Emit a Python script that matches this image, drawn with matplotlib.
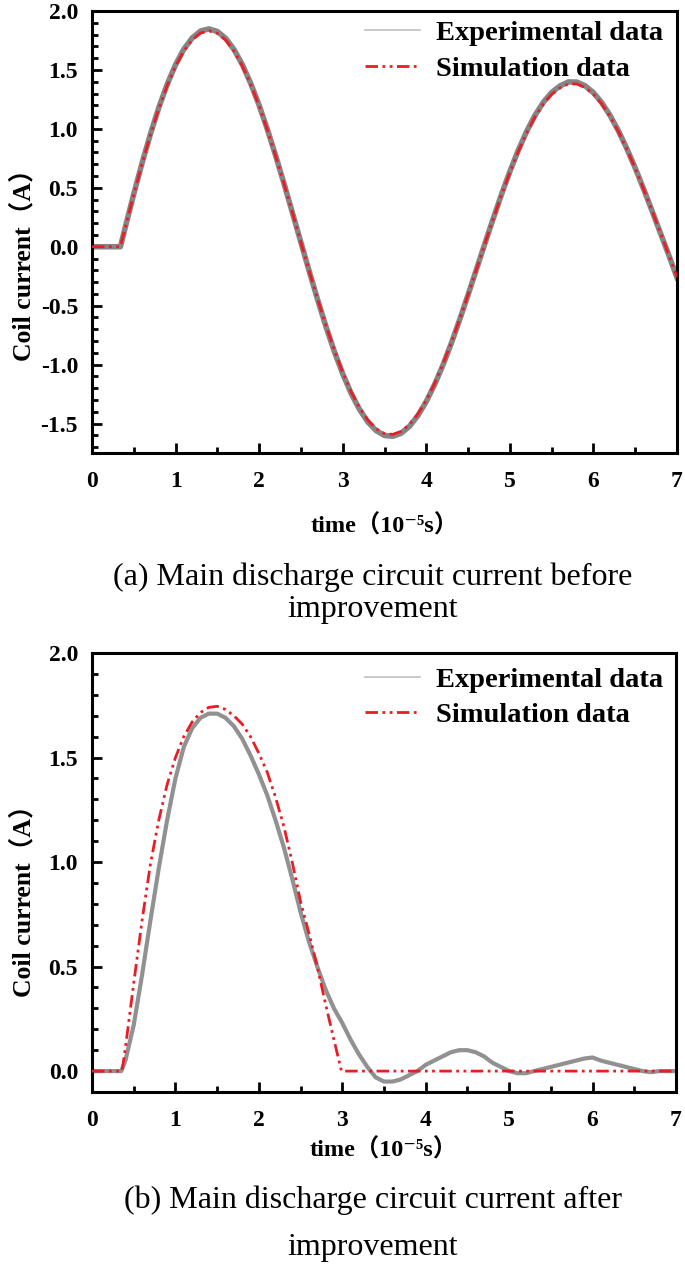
import matplotlib
matplotlib.use("Agg")
import matplotlib.pyplot as plt
from matplotlib.ticker import MultipleLocator

# ---------------- data ----------------
time_a = [0.0, 0.1, 0.2, 0.3, 0.34, 0.4, 0.5, 0.6, 0.7, 0.8, 0.9, 1.0, 1.1, 1.2, 1.3,
          1.4, 1.5, 1.6, 1.7, 1.8, 1.9, 2.0, 2.1, 2.2, 2.3, 2.4, 2.5, 2.6, 2.7, 2.8,
          2.9, 3.0, 3.1, 3.2, 3.3, 3.4, 3.5, 3.6, 3.7, 3.8, 3.9, 4.0, 4.1, 4.2, 4.3,
          4.4, 4.5, 4.6, 4.7, 4.8, 4.9, 5.0, 5.1, 5.2, 5.3, 5.4, 5.5, 5.6, 5.7, 5.8,
          5.9, 6.0, 6.1, 6.2, 6.3, 6.4, 6.5, 6.6, 6.7, 6.8, 6.9, 7.0]
sim_a = [0, 0, 0, 0, 0, 0.169, 0.444, 0.707, 0.951, 1.173, 1.368, 1.532, 1.662, 1.756,
         1.813, 1.831, 1.810, 1.753, 1.660, 1.534, 1.376, 1.194, 0.988, 0.765, 0.529,
         0.284, 0.037, -0.208, -0.445, -0.670, -0.879, -1.066, -1.230, -1.365, -1.470,
         -1.544, -1.585, -1.592, -1.566, -1.508, -1.419, -1.302, -1.160, -0.996, -0.813,
         -0.615, -0.407, -0.193, 0.022, 0.233, 0.438, 0.630, 0.807, 0.964, 1.100, 1.210,
         1.293, 1.347, 1.382, 1.381, 1.351, 1.294, 1.211, 1.104, 0.975, 0.827, 0.665,
         0.490, 0.308, 0.121, -0.065, -0.260]
exp_a = [0, 0, 0, 0, 0, 0.170, 0.448, 0.712, 0.958, 1.182, 1.378, 1.545, 1.677, 1.772,
         1.830, 1.848, 1.826, 1.768, 1.672, 1.544, 1.384, 1.200, 0.992, 0.767, 0.530,
         0.284, 0.036, -0.210, -0.450, -0.678, -0.889, -1.078, -1.243, -1.379, -1.486,
         -1.560, -1.601, -1.608, -1.582, -1.523, -1.432, -1.313, -1.169, -1.003, -0.818,
         -0.618, -0.408, -0.192, 0.024, 0.237, 0.444, 0.638, 0.817, 0.977, 1.114, 1.225,
         1.309, 1.364, 1.398, 1.397, 1.366, 1.307, 1.222, 1.113, 0.982, 0.832, 0.668,
         0.491, 0.307, 0.119, -0.068, -0.262]

time_sim_b = [0.0, 0.1, 0.2, 0.3, 0.36, 0.4, 0.5, 0.6, 0.7, 0.8, 0.9, 1.0, 1.1, 1.2, 1.3,
              1.4, 1.5, 1.6, 1.7, 1.8, 1.9, 2.0, 2.1, 2.2, 2.3, 2.4, 2.5, 2.6, 2.7, 2.8,
              2.9, 2.99, 4.0, 5.0, 6.0, 7.0]
sim_b = [0, 0, 0, 0, 0, 0.11, 0.42, 0.72, 0.99, 1.20, 1.37, 1.50, 1.60, 1.67, 1.715,
         1.74, 1.745, 1.73, 1.70, 1.66, 1.60, 1.52, 1.43, 1.31, 1.17, 1.00, 0.81, 0.66,
         0.50, 0.32, 0.15, 0.0, 0.0, 0.0, 0.0, 0.0]

time_exp_b = [0.0, 0.1, 0.2, 0.3, 0.35, 0.4, 0.5, 0.6, 0.7, 0.8, 0.9, 1.0, 1.1, 1.2, 1.3,
              1.4, 1.5, 1.6, 1.7, 1.8, 1.9, 2.0, 2.1, 2.2, 2.3, 2.4, 2.5, 2.6, 2.7, 2.8,
              2.9, 3.0, 3.1, 3.2, 3.3, 3.4, 3.5, 3.6, 3.7, 3.8, 3.9, 4.0, 4.1, 4.2, 4.3,
              4.4, 4.5, 4.6, 4.7, 4.8, 4.9, 5.0, 5.1, 5.2, 5.3, 5.4, 5.5, 5.6, 5.7, 5.8,
              5.9, 6.0, 6.1, 6.2, 6.3, 6.4, 6.5, 6.6, 6.7, 6.8, 6.9, 7.0]
exp_b = [0.0, 0.0, 0.0, 0.0, 0.0, 0.05, 0.22, 0.46, 0.72, 0.97, 1.20, 1.40, 1.55, 1.64,
         1.69, 1.71, 1.71, 1.69, 1.65, 1.59, 1.51, 1.42, 1.32, 1.20, 1.07, 0.92, 0.76,
         0.62, 0.50, 0.39, 0.30, 0.23, 0.15, 0.08, 0.02, -0.03, -0.05, -0.05, -0.04,
         -0.02, 0.0, 0.03, 0.05, 0.07, 0.09, 0.10, 0.10, 0.09, 0.07, 0.04, 0.02, 0.0,
         -0.01, -0.01, 0.0, 0.01, 0.02, 0.03, 0.04, 0.05, 0.06, 0.065, 0.05, 0.04, 0.03,
         0.02, 0.01, 0.0, -0.005, 0.0, 0.0, 0.0]

x_ticks = [0, 1, 2, 3, 4, 5, 6, 7]
yticks_a = [-1.5, -1.0, -0.5, 0.0, 0.5, 1.0, 1.5, 2.0]
yticks_b = [0.0, 0.5, 1.0, 1.5, 2.0]
label_exp = "Experimental data"
label_sim = "Simulation data"
ylabel = "Coil current\uff08A\uff09"
xlabel = "time\uff0810\u207b\u2075s\uff09"
caption_a = ["(a) Main discharge circuit current before", "improvement"]
caption_b = ["(b) Main discharge circuit current after", "improvement"]

# ---------------- style ----------------
SERIF = ["Liberation Serif", "DejaVu Serif", "Noto Sans CJK SC"]
plt.rcParams["font.family"] = SERIF
RED = "#ec1c24"
GRAY = "#858585"

fig = plt.figure(figsize=(6.85, 12.69), dpi=100)
W, H = 685.0, 1269.0


def axes_px(l, t, r, b):
    return fig.add_axes([l / W, 1 - b / H, (r - l) / W, (b - t) / H])


ax_a = axes_px(92, 11, 677, 453)
ax_b = axes_px(92, 653, 676, 1092)


def style_axes(ax, ylim, yticks, ylabel_y):
    ax.set_xlim(0, 7)
    ax.set_ylim(*ylim)
    ax.set_xticks(x_ticks)
    ax.set_yticks(yticks)
    ax.xaxis.set_minor_locator(MultipleLocator(0.5))
    ax.yaxis.set_minor_locator(MultipleLocator(0.1))
    ax.set_xticklabels([str(v) for v in x_ticks])
    ax.set_yticklabels([f"{v:.1f}" for v in yticks])
    for s in ax.spines.values():
        s.set_linewidth(2.2)
    ax.tick_params(which="both", direction="in", top=False, right=False,
                   width=2.0, labelsize=17)
    ax.tick_params(axis="x", pad=13)
    ax.tick_params(axis="y", pad=10)
    ax.tick_params(which="major", length=7)
    ax.tick_params(which="minor", length=4)
    for lab in ax.get_xticklabels() + ax.get_yticklabels():
        lab.set_fontweight("bold")
        lab.set_family(SERIF)
    ax.set_ylabel(ylabel, fontsize=18.5, fontweight="bold", family=SERIF,
                  va="center")
    ax.yaxis.set_label_coords(-(92 - 23) / 585, ylabel_y)


style_axes(ax_a, (-1.75, 2.0), yticks_a, 0.44)
style_axes(ax_b, (-0.1, 2.0), yticks_b, 0.45)

dash_pat = (4.5, 1.6, 1.0, 1.6, 1.0, 1.6)

ax_a.plot(time_a, exp_a, color=GRAY, lw=4.0, label=label_exp, zorder=2)
ax_a.plot(time_a, sim_a, color=RED, lw=2.0, dashes=dash_pat, label=label_sim, zorder=3)
ax_b.plot(time_exp_b, exp_b, color=GRAY, lw=3.0, alpha=0.9, label=label_exp, zorder=2)
ax_b.plot(time_sim_b, sim_b, color=RED, lw=2.0, dashes=dash_pat, label=label_sim, zorder=3)

ax_a.set_xlabel(xlabel, fontsize=17.5, fontweight="bold", family=SERIF)
ax_a.xaxis.set_label_coords(0.5, -(526 - 453) / 442)
ax_b.set_xlabel(xlabel, fontsize=17.5, fontweight="bold", family=SERIF)
ax_b.xaxis.set_label_coords(0.5, -(1150 - 1092) / 439)
for ax in (ax_a, ax_b):
    ax.xaxis.label.set_va("center")

for ax, ytop in ((ax_a, 0.979), (ax_b, 0.969)):
    leg = ax.legend(loc="upper left", bbox_to_anchor=(0.467, ytop), frameon=False,
                    prop={"family": SERIF, "weight": "bold", "size": 20.5},
                    handlelength=1.93, handletextpad=0.56, borderpad=0.0,
                    labelspacing=0.33, borderaxespad=0.0)
    hl = leg.get_lines()
    hl[0].set_linewidth(1.2)
    hl[0].set_color("#c0c0c0")
    hl[0].set_alpha(1.0)

# captions
fig.text(373 / W, 1 - 577 / H, caption_a[0], ha="center", va="center",
         fontsize=23, family=SERIF)
fig.text(373 / W, 1 - 610 / H, caption_a[1], ha="center", va="center",
         fontsize=23, family=SERIF)
fig.text(373 / W, 1 - 1200 / H, caption_b[0], ha="center", va="center",
         fontsize=23, family=SERIF)
fig.text(373 / W, 1 - 1247 / H, caption_b[1], ha="center", va="center",
         fontsize=23, family=SERIF)

fig.savefig("out.png", dpi=100)
